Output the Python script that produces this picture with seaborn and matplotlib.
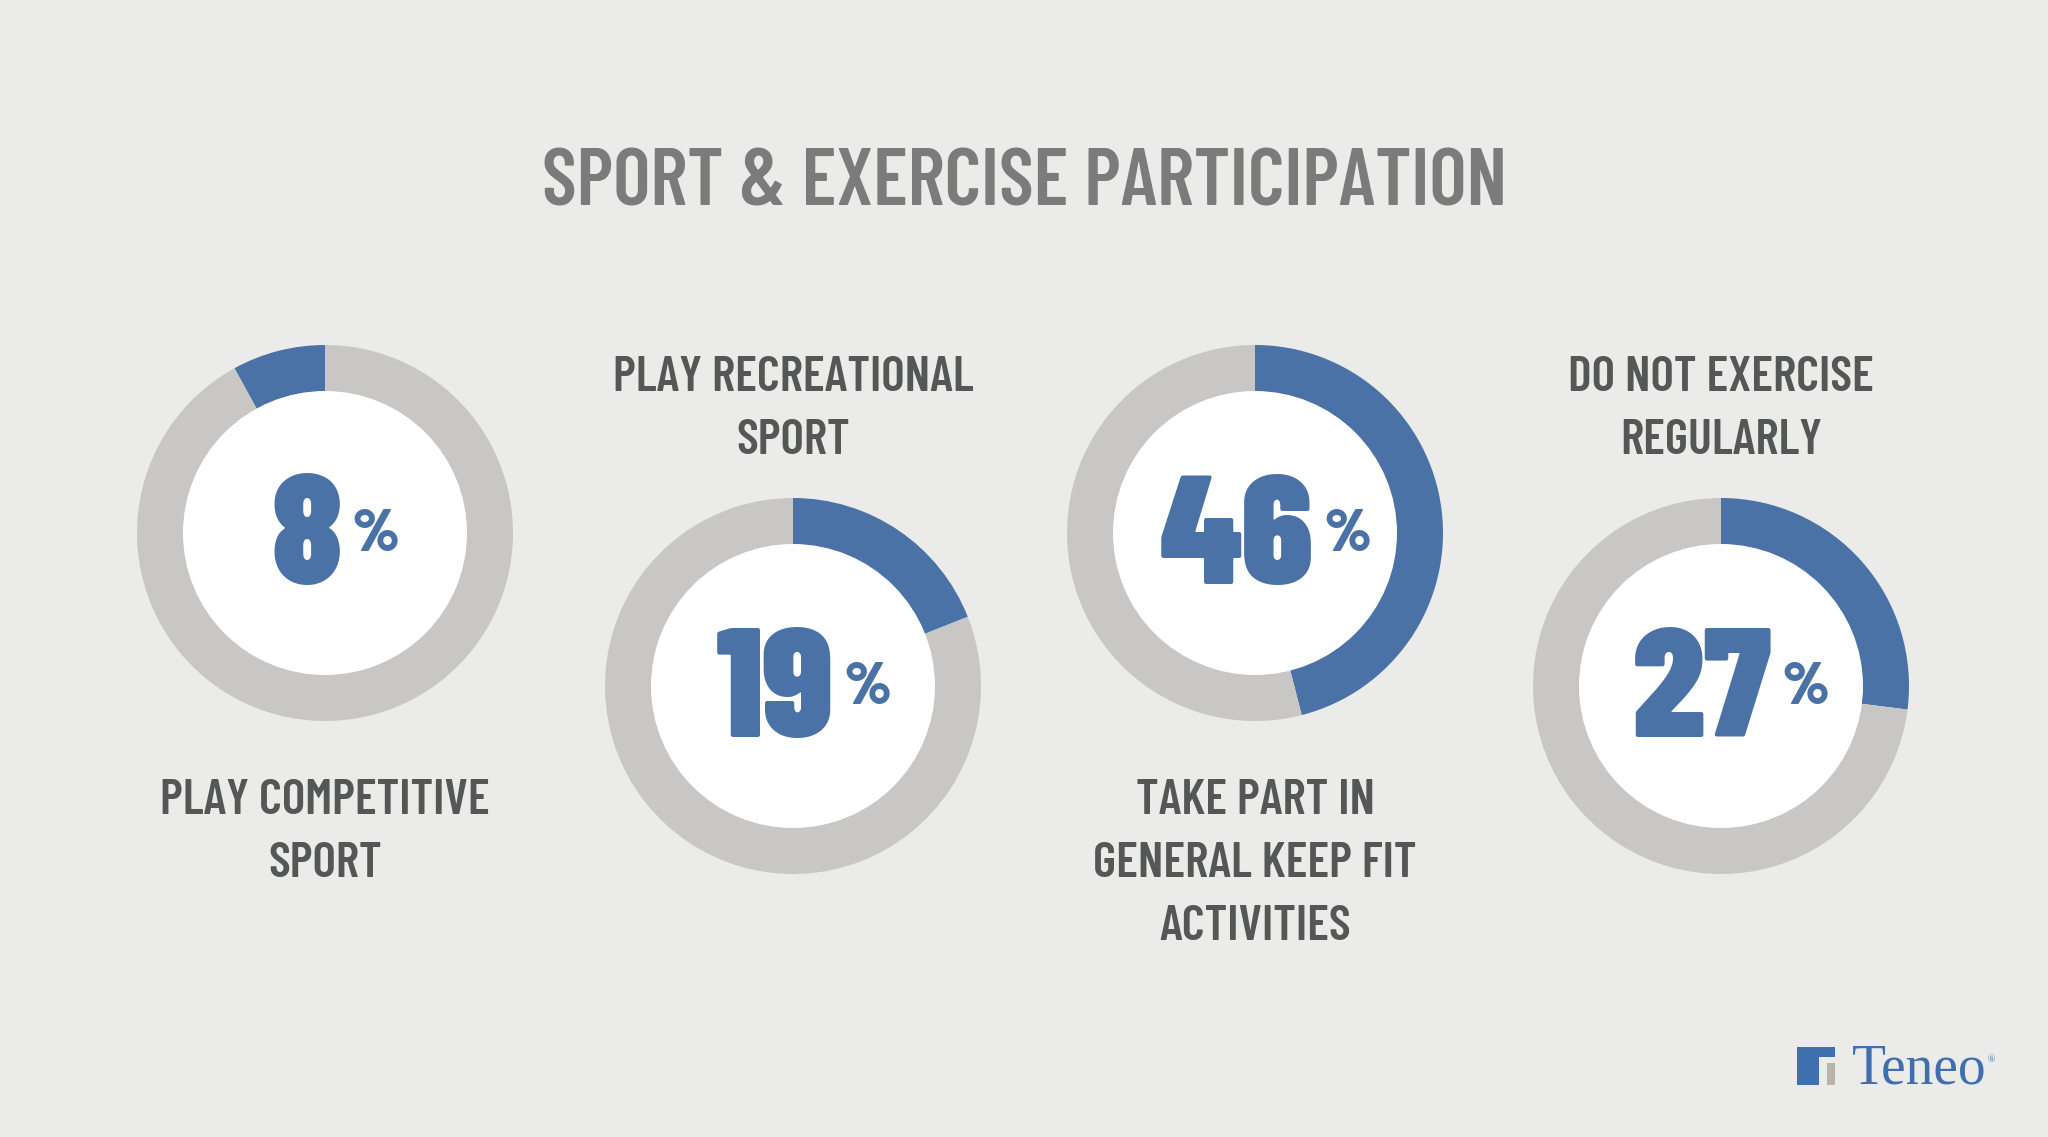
import os
import matplotlib
matplotlib.use('Agg')
import matplotlib.pyplot as plt
import seaborn as sns
from matplotlib import font_manager
from matplotlib.patches import Circle, Rectangle

# Survey shares (percent of respondents)
categories = ['PLAY COMPETITIVE\nSPORT',
              'PLAY RECREATIONAL\nSPORT',
              'TAKE PART IN\nGENERAL KEEP FIT\nACTIVITIES',
              'DO NOT EXERCISE\nREGULARLY']
shares = [8, 19, 46, 27]
title = 'SPORT & EXERCISE PARTICIPATION'

BG = '#EBECEA'
BLUE = '#4A72A6'
RING = '#C8C7C5'
TITLE_C = '#7A7B7A'
LABEL_C = '#555756'

sns.set_theme(style='white')
plt.rcParams['font.family'] = ['DejaVu Sans']

files = {os.path.basename(f.fname).split('.')[0]: f.fname for f in font_manager.fontManager.ttflist}


def pick(prefs):
    for p in prefs:
        if p in files:
            return font_manager.FontProperties(fname=files[p])
    return font_manager.FontProperties(family='DejaVu Sans', weight='bold')


# DIN-like condensed faces
num_fp = pick(['BarlowCondensed-Black', 'BarlowCondensed-ExtraBold', 'FiraSansCondensed-Black',
               'RobotoCondensed-Black', 'DejaVuSansCondensed-Bold'])
lab_fp = pick(['BarlowCondensed-SemiBold', 'BarlowCondensed-Bold', 'RobotoCondensed-Bold',
               'FiraSansCondensed-Bold', 'DejaVuSansCondensed-Bold'])

W, H = 2048, 1137
fig = plt.figure(figsize=(W / 100, H / 100), dpi=100, facecolor=BG)
ax = fig.add_axes([0, 0, 1, 1])
ax.set_facecolor(BG)

centres_x = [325, 793, 1255, 1721]
centres_y = [533, 686, 533, 686]
R_OUT, R_IN = 188, 142


def yy(y):
    # image rows -> axes y (upwards)
    return H - y


renderer = fig.canvas.get_renderer()

for i, (cat, v) in enumerate(zip(categories, shares)):
    cx, cy = centres_x[i], yy(centres_y[i])
    ax.pie([v, 100 - v], colors=[BLUE, RING], startangle=90,
           counterclock=(i == 0), radius=R_OUT, center=(cx, cy),
           wedgeprops=dict(width=R_OUT - R_IN + 2, linewidth=0))
    ax.add_patch(Circle((cx, cy), R_IN, facecolor='white', edgecolor='none', zorder=3))

    # big number with small percent sign
    tn = ax.text(0, cy - 51, str(v), fontproperties=num_fp, fontsize=112, color=BLUE,
                 ha='left', va='baseline', zorder=4)
    tp = ax.text(0, cy - 18, '%', fontproperties=num_fp, fontsize=44, color=BLUE,
                 ha='left', va='baseline', zorder=4)
    wn = tn.get_window_extent(renderer).width
    wp = tp.get_window_extent(renderer).width
    gap = 10
    left = cx + 10 - (wn + gap + wp) / 2
    tn.set_x(left)
    tp.set_x(left + wn + gap)

    # category label
    lines = cat.split('\n')
    base = 814 if i % 2 == 0 else 391
    for k, line in enumerate(lines):
        ax.text(cx, yy(base + 63 * k), line, fontproperties=lab_fp, fontsize=36,
                color=LABEL_C, ha='center', va='baseline')

ax.text(1025, yy(205), title, fontproperties=lab_fp, fontsize=57.5, color=TITLE_C,
        ha='center', va='baseline')

# Teneo logo
ax.add_patch(Rectangle((1797, yy(1057)), 38, 10, facecolor='#3F6FAE', edgecolor='none'))
ax.add_patch(Rectangle((1797, yy(1085)), 22, 38, facecolor='#3F6FAE', edgecolor='none'))
ax.add_patch(Rectangle((1827, yy(1085)), 8, 22, facecolor='#B9B4AA', edgecolor='none'))
ax.text(1852, yy(1084), 'Teneo', fontsize=40, color='#3F6FAE',
        family=['Liberation Serif', 'DejaVu Serif'], ha='left', va='baseline')
ax.text(1988, yy(1062), '®', fontsize=7, color='#3F6FAE',
        family=['Liberation Serif', 'DejaVu Serif'], ha='left', va='baseline')

ax.set_xlim(0, W)
ax.set_ylim(0, H)
ax.set_aspect('equal')
ax.axis('off')

fig.savefig('out.png', dpi=100, facecolor=BG)
